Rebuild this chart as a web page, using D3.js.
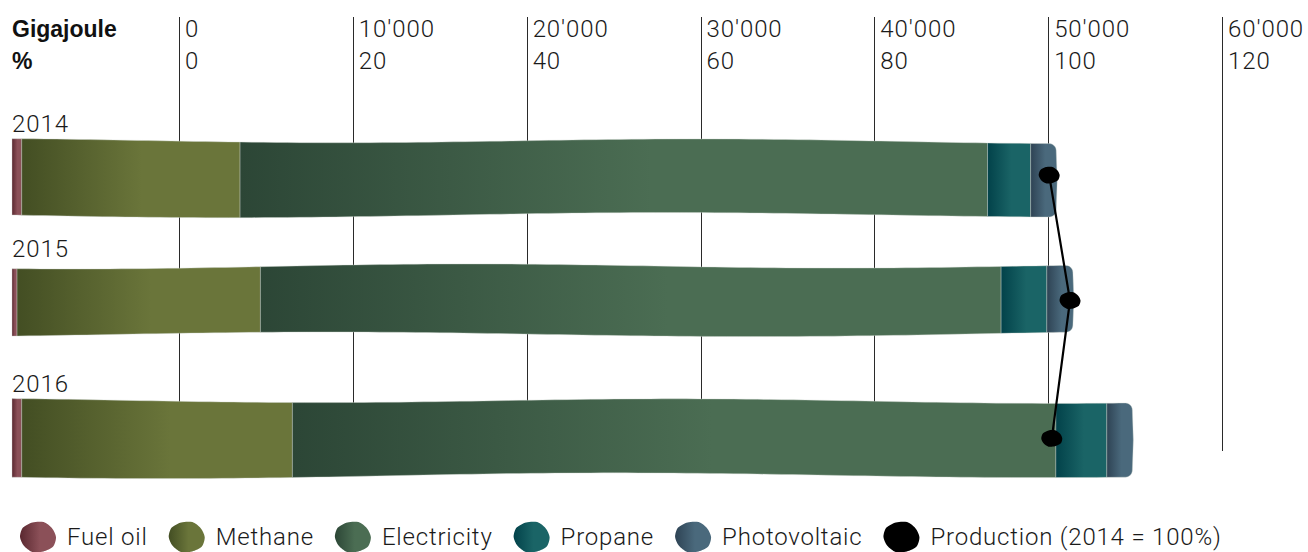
<!DOCTYPE html>
<html>
<head>
<meta charset="utf-8">
<script src="https://cdn.jsdelivr.net/npm/d3@7"></script>
<style>
  html, body { margin: 0; padding: 0; background: #fff; }
  svg { display: block; }
  .light { font-family: Roboto, "Liberation Sans", sans-serif; font-weight: 300; fill: #1a1a1a; letter-spacing: 0.9px; }
  .legend-text { letter-spacing: 0.8px; }
  .bold { font-family: "Liberation Sans", Arial, sans-serif; font-weight: 700; fill: #111; }
</style>
</head>
<body>
<svg id="chart" width="1308" height="552"></svg>
<script>
// ---- data -------------------------------------------------------------
const years = ["2014", "2015", "2016"];
const seriesNames = ["Fuel oil", "Methane", "Electricity", "Propane", "Photovoltaic"];
// energy use per carrier, gigajoule
const fuelOil      = [560, 290, 560];
const methane      = [12560, 14000, 15570];
const electricity  = [43000, 42610, 43920];
const propane      = [2480, 2630, 2930];
const photovoltaic = [1470, 1500, 1470];
// production index, 2014 = 100 %
const production   = [100, 102.4, 100.3];
const productionLabel = "Production (2014 = 100%)";
// axis ticks
const gjTicks  = [0, 10000, 20000, 30000, 40000, 50000, 60000];
const pctTicks = [0, 20, 40, 60, 80, 100, 120];

// ---- style ------------------------------------------------------------
const palette = {
  "Fuel oil":     ["#5a2830", "#8b5058"],
  "Methane":      ["#434e23", "#6a753a"],
  "Electricity":  ["#2c4636", "#4b6d53"],
  "Propane":      ["#02424a", "#1a6466"],
  "Photovoltaic": ["#2e4354", "#4a697c"]
};
// hand-drawn feel: wave phases and small irregularities per row
const edgeWave = [
  { top: -1.2, bot: 0.0 },
  { top: 0.9,  bot: 2.4 },
  { top: -1.0, bot: 0.4 }
];
const rowShape = [ { dy: 0, dh: 0 }, { dy: -5, dh: -6 }, { dy: -1, dh: 1 } ];

const svg = d3.select("#chart");
const defs = svg.append("defs");

const locale = d3.formatLocale({ decimal: ".", thousands: "'", grouping: [3], currency: ["", ""] });
const fmtGJ = locale.format(",");

// ---- scales -----------------------------------------------------------
const xGJ  = d3.scaleLinear().domain([0, 60000]).range([180, 1223]);
const xPct = d3.scaleLinear().domain([0, 120]).range([180, 1223]);
// bars are laid out from the left margin with the same gigajoule unit length
const barLeft = 12;
const xBar = d3.scaleLinear().domain([0, 60000]).range([barLeft, barLeft + (xGJ(60000) - xGJ(0))]);
const yBand = d3.scaleBand().domain(years).range([139, 478]).paddingInner(0.4);

// ---- gradients --------------------------------------------------------
seriesNames.forEach((name, i) => {
  const g = defs.append("linearGradient")
    .attr("id", "grad" + i)
    .attr("x1", "0").attr("x2", "1").attr("y1", "0").attr("y2", "0");
  g.append("stop").attr("offset", "0").attr("stop-color", palette[name][0]);
  g.append("stop").attr("offset", "0.55").attr("stop-color", palette[name][1]);
  g.append("stop").attr("offset", "1").attr("stop-color", palette[name][1]);
});

// ---- grid and axis labels --------------------------------------------
const grid = svg.append("g");
grid.selectAll("line").data(gjTicks).join("line")
  .attr("x1", d => Math.round(xGJ(d)) - 0.5)
  .attr("x2", d => Math.round(xGJ(d)) - 0.5)
  .attr("y1", 17).attr("y2", 451)
  .attr("stroke", "#2a2a2a").attr("stroke-width", 1);

svg.append("g").selectAll("text").data(gjTicks).join("text")
  .attr("class", "light")
  .attr("x", d => xGJ(d) + 5).attr("y", 37)
  .attr("font-size", 24)
  .text(d => fmtGJ(d));
svg.append("g").selectAll("text").data(pctTicks).join("text")
  .attr("class", "light")
  .attr("x", d => xPct(d) + 5).attr("y", 69)
  .attr("font-size", 24)
  .text(d => d);

svg.append("text").attr("class", "bold").attr("x", 12).attr("y", 37).attr("font-size", 23).text("Gigajoule");
svg.append("text").attr("class", "bold").attr("x", 12).attr("y", 69).attr("font-size", 23).text("%");

// ---- stacked bars -----------------------------------------------------
const table = years.map((y, i) => ({
  year: y,
  "Fuel oil": fuelOil[i],
  "Methane": methane[i],
  "Electricity": electricity[i],
  "Propane": propane[i],
  "Photovoltaic": photovoltaic[i]
}));
const stacked = d3.stack().keys(seriesNames)(table);

function rowTop(i) { return yBand(years[i]) + rowShape[i].dy; }
function rowBot(i) { return yBand(years[i]) + yBand.bandwidth() + rowShape[i].dy + rowShape[i].dh; }
function waveTop(x, i) {
  const p = edgeWave[i].top;
  return rowTop(i) + 2 + 2.2 * Math.sin(x / 120 + p) + 0.5 * Math.sin(x / 260 + 2 * p);
}
function waveBot(x, i) {
  const p = edgeWave[i].bot;
  return rowBot(i) - 2.5 + 2.6 * Math.sin(x / 140 + p) + 0.5 * Math.sin(x / 300 + 3 * p);
}

function segmentPath(x0, x1, i, roundEnd) {
  const pts = [];
  const r = roundEnd ? 7 : 0;
  const n = Math.max(2, Math.ceil((x1 - x0) / 12));
  for (let k = 0; k <= n; k++) {
    const x = x0 + (x1 - r - x0) * k / n;
    pts.push([x, waveTop(x, i)]);
  }
  if (roundEnd) {
    const t = waveTop(x1 - r, i), b = waveBot(x1 - r, i);
    for (let a = -90; a <= 0; a += 15) {
      const rad = a * Math.PI / 180;
      pts.push([x1 - r + r * Math.cos(rad), t + r + r * Math.sin(rad)]);
    }
    pts.push([x1 + 1, (t + b) / 2]);
    for (let a = 0; a <= 90; a += 15) {
      const rad = a * Math.PI / 180;
      pts.push([x1 - r + r * Math.cos(rad), b - r + r * Math.sin(rad)]);
    }
  }
  for (let k = n; k >= 0; k--) {
    const x = x0 + (x1 - r - x0) * k / n;
    pts.push([x, waveBot(x, i)]);
  }
  return d3.line().curve(d3.curveLinear)(pts) + "Z";
}

const barsG = svg.append("g");
stacked.forEach((layer, si) => {
  layer.forEach((d, i) => {
    const x0 = xBar(d[0]), x1 = xBar(d[1]);
    barsG.append("path")
      .attr("d", segmentPath(x0, x1, i, si === seriesNames.length - 1))
      .attr("fill", `url(#grad${si})`)
      .attr("stroke", "rgba(205,212,205,0.55)")
      .attr("stroke-width", 0.7);
  });
});

// year labels
svg.append("g").selectAll("text").data(years).join("text")
  .attr("class", "light")
  .attr("x", 12)
  .attr("y", (d, i) => rowTop(i) - 7)
  .attr("font-size", 24)
  .text(d => d);

// ---- production line and markers ---------------------------------------
const prodPts = production.map((v, i) => [xPct(v), (rowTop(i) + rowBot(i)) / 2 - (i === 0 ? 3 : 0)]);
svg.append("path")
  .attr("d", d3.line()(prodPts))
  .attr("fill", "none")
  .attr("stroke", "#000")
  .attr("stroke-width", 2.2);

// irregular rounded blob, used for markers and legend keys
const blobWarp = [1.0, 1.04, 0.98, 1.02, 0.97, 1.0, 1.03, 0.99, 1.01, 0.96];
function blobPath(cx, cy, rx, ry) {
  const pts = blobWarp.map((w, k) => {
    const a = (k / blobWarp.length) * 2 * Math.PI;
    return [cx + rx * w * Math.cos(a), cy + ry * w * Math.sin(a)];
  });
  return d3.line().curve(d3.curveCardinalClosed.tension(0.2))(pts);
}

svg.append("g").selectAll("path").data(prodPts).join("path")
  .attr("d", d => blobPath(d[0], d[1], 10.5, 8.5))
  .attr("fill", "#000");

// ---- legend -------------------------------------------------------------
const legendItems = seriesNames.map((n, i) => ({ label: n, fill: `url(#grad${i})` }))
  .concat([{ label: productionLabel, fill: "#000" }]);
const legend = svg.append("g");
let lx = 20;
legendItems.forEach(item => {
  legend.append("path")
    .attr("d", blobPath(lx + 18, 537, 18, 15.5))
    .attr("fill", item.fill);
  const t = legend.append("text")
    .attr("class", "light legend-text")
    .attr("x", lx + 47).attr("y", 545)
    .attr("font-size", 24)
    .text(item.label);
  lx = lx + 47 + t.node().getComputedTextLength() + 21;
});
</script>
</body>
</html>
